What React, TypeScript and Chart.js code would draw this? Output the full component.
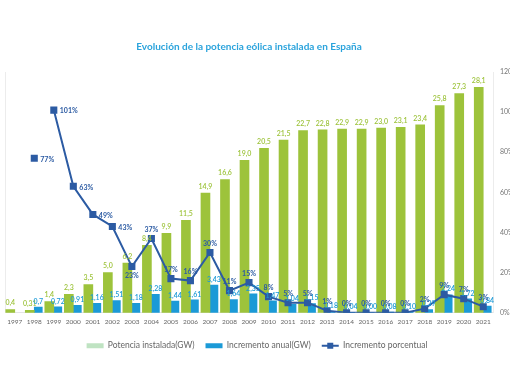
import React, { useEffect, useRef } from 'react';
import { Chart, registerables } from 'chart.js';

Chart.register(...registerables);

const years = ['1997', '1998', '1999', '2000', '2001', '2002', '2003', '2004', '2005', '2006', '2007', '2008', '2009', '2010', '2011', '2012', '2013', '2014', '2015', '2016', '2017', '2018', '2019', '2020', '2021'];
const installedGW = [0.4, 0.31, 1.4, 2.3, 3.5, 5.0, 6.2, 8.4, 9.9, 11.5, 14.9, 16.6, 19.0, 20.5, 21.5, 22.7, 22.8, 22.9, 22.9, 23.0, 23.1, 23.4, 25.8, 27.3, 28.1];
const annualGW = [null, 0.7, 0.72, 0.91, 1.16, 1.51, 1.18, 2.28, 1.44, 1.61, 3.43, 1.64, 2.35, 1.47, 1.04, 1.15, 0.18, 0.04, 0.0, 0.08, 0.1, 0.39, 2.24, 1.72, 0.84];
const pctIncrease = [null, 77, 101, 63, 49, 43, 23, 37, 17, 16, 30, 11, 15, 8, 5, 5, 1, 0, 0, 0, 0, 2, 9, 7, 3];
const pctLabelPos = ['', 'right', 'right', 'right', 'right', 'right', 'below', 'above', 'above', 'above', 'above', 'above', 'above', 'above', 'above', 'above', 'above', 'above', 'above', 'above', 'above', 'above', 'above', 'above', 'above'];
const pctTicks = [0, 20, 40, 60, 80, 100, 120];

const TITLE = 'Evolución de la potencia eólica instalada en España';
const GREEN = '#9dc33b';
const GREEN_LEGEND = '#bfe3c2';
const BLUE = '#1b9ad7';
const DARK = '#2c5ba3';
const FONT = 'Lato, "Open Sans", sans-serif';

const fmtGreen = (v: number) => v.toLocaleString('es-ES', { minimumFractionDigits: 1, maximumFractionDigits: 2 });
const fmtBlue = (v: number) => (v === 0.7 ? '0,7' : v.toFixed(2).replace('.', ','));

const labelsPlugin = {
  id: 'valueLabels',
  afterDatasetsDraw(chart: any) {
    const ctx = chart.ctx;
    ctx.save();
    chart.data.datasets.forEach((ds: any, di: number) => {
      const meta = chart.getDatasetMeta(di);
      meta.data.forEach((el: any, i: number) => {
        const v = ds.data[i];
        if (v == null) return;
        ctx.font = `600 7px ${FONT}`;
        if (di === 0) {
          ctx.fillStyle = GREEN;
          ctx.textAlign = 'center';
          ctx.textBaseline = 'bottom';
          ctx.fillText(fmtGreen(v), el.x, el.y - 3);
        } else if (di === 1) {
          ctx.fillStyle = BLUE;
          ctx.textAlign = 'center';
          ctx.textBaseline = 'bottom';
          ctx.fillText(fmtBlue(v), el.x, el.y - 2);
        } else {
          ctx.fillStyle = DARK;
          ctx.font = `bold 7px ${FONT}`;
          const pos = pctLabelPos[i];
          const t = v + '%';
          if (pos === 'right') {
            ctx.textAlign = 'left';
            ctx.textBaseline = 'middle';
            ctx.fillText(t, el.x + 6, el.y + 1);
          } else if (pos === 'below') {
            ctx.textAlign = 'center';
            ctx.textBaseline = 'top';
            ctx.fillText(t, el.x, el.y + 6);
          } else {
            ctx.textAlign = 'center';
            ctx.textBaseline = 'bottom';
            ctx.fillText(t, el.x, el.y - 5);
          }
        }
      });
    });
    ctx.restore();
  },
};

const legendLinePlugin = {
  id: 'legendLine',
  afterDraw(chart: any) {
    const legend = chart.legend;
    if (!legend || !legend.legendItems) return;
    const idx = legend.legendItems.findIndex((it: any) => it.datasetIndex === 2);
    const hb = legend.legendHitBoxes && legend.legendHitBoxes[idx];
    if (!hb) return;
    const ctx = chart.ctx;
    const bw = legend.options.labels.boxWidth;
    const cy = hb.top + hb.height / 2;
    ctx.save();
    ctx.strokeStyle = DARK;
    ctx.lineWidth = 2;
    ctx.beginPath();
    ctx.moveTo(hb.left, cy);
    ctx.lineTo(hb.left + bw, cy);
    ctx.stroke();
    ctx.fillStyle = DARK;
    ctx.fillRect(hb.left + bw / 2 - 3, cy - 3, 6, 6);
    ctx.restore();
  },
};

export default function App() {
  const ref = useRef<HTMLCanvasElement | null>(null);
  useEffect(() => {
    if (!ref.current) return;
    const chart = new Chart(ref.current, {
      type: 'bar',
      data: {
        labels: years,
        datasets: [
          {
            type: 'bar',
            label: 'Potencia instalada(GW)',
            data: installedGW,
            backgroundColor: GREEN,
            barThickness: 9,
            yAxisID: 'y',
            order: 1,
          },
          {
            type: 'bar',
            label: 'Incremento anual(GW)',
            data: annualGW,
            backgroundColor: BLUE,
            barThickness: 8,
            yAxisID: 'y',
            order: 2,
          },
          {
            type: 'line',
            label: 'Incremento porcentual',
            data: pctIncrease,
            borderColor: DARK,
            backgroundColor: DARK,
            borderWidth: 2,
            pointStyle: 'rect',
            pointRadius: 5,
            pointBackgroundColor: DARK,
            pointBorderWidth: 0,
            yAxisID: 'yP',
            order: 0,
            segment: {
              borderColor: (c: any) => (c.p0DataIndex === 1 ? 'rgba(0,0,0,0)' : DARK),
            },
          } as any,
        ],
      },
      options: {
        animation: false,
        responsive: true,
        maintainAspectRatio: false,
        layout: { padding: { left: 4, right: 0, top: 0, bottom: 22 } },
        plugins: {
          title: {
            display: true,
            text: TITLE,
            color: '#2aa3dc',
            fullSize: false,
            font: { family: FONT, size: 10, weight: 'bold' },
            padding: { top: 41, bottom: 19 },
          },
          legend: {
            position: 'bottom',
            labels: {
              boxWidth: 17,
              boxHeight: 5,
              padding: 11,
              color: '#666',
              font: { family: FONT, size: 8.5 },
              sort: (a: any, b: any) => a.datasetIndex - b.datasetIndex,
              generateLabels: (chart: any) =>
                chart.data.datasets.map((ds: any, i: number) => ({
                  text: ds.label,
                  fillStyle: i === 0 ? GREEN_LEGEND : i === 1 ? BLUE : 'rgba(0,0,0,0)',
                  strokeStyle: 'rgba(0,0,0,0)',
                  lineWidth: 0,
                  fontColor: '#666',
                  hidden: false,
                  datasetIndex: i,
                })),
            },
          },
          tooltip: { enabled: false },
        },
        scales: {
          x: {
            grid: { display: false, drawTicks: false },
            border: { display: true, color: '#e4e4e4' },
            ticks: { color: '#666', font: { family: FONT, size: 6.5 }, padding: 5, maxRotation: 0, autoSkip: false },
          },
          y: {
            position: 'left',
            min: 0,
            max: 30,
            grid: { display: false, drawTicks: false },
            border: { display: true, color: '#ececec' },
            ticks: { display: false },
            afterFit: (s: any) => { s.width = 0; },
          },
          yP: {
            position: 'right',
            min: 0,
            max: 120,
            grid: { display: false, drawTicks: false },
            border: { display: true, color: '#ececec' },
            afterBuildTicks: (s: any) => { s.ticks = pctTicks.map((v) => ({ value: v })); },
            ticks: {
              color: '#777',
              font: { family: FONT, size: 7 },
              padding: 7,
              autoSkip: false,
              callback: (v: any) => v + '%',
            },
            afterFit: (s: any) => { s.width = 17; },
          },
        },
      },
      plugins: [labelsPlugin, legendLinePlugin],
    });
    return () => chart.destroy();
  }, []);
  return (
    <div style={{ position: 'fixed', left: 0, top: 0, width: 510, height: 382, overflow: 'hidden', background: '#fff' }}>
      <div style={{ position: 'relative', width: 510, height: 382 }}>
        <canvas ref={ref} />
      </div>
    </div>
  );
}
